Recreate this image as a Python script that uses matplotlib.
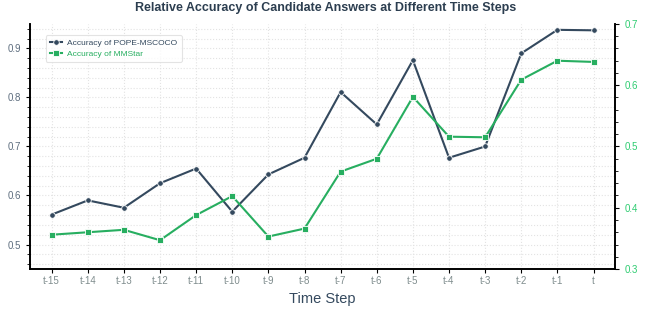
import numpy as np
import matplotlib
matplotlib.use("Agg")
import matplotlib.pyplot as plt
from matplotlib.ticker import MultipleLocator

plt.rcParams['font.family'] = ['Liberation Sans', 'DejaVu Sans']

steps = ["t-15", "t-14", "t-13", "t-12", "t-11", "t-10", "t-9", "t-8",
         "t-7", "t-6", "t-5", "t-4", "t-3", "t-2", "t-1", "t"]
pope = [0.561, 0.590, 0.575, 0.625, 0.655, 0.567, 0.643, 0.677,
        0.811, 0.745, 0.876, 0.677, 0.700, 0.890, 0.938, 0.937]
mmstar = [0.356, 0.360, 0.364, 0.347, 0.388, 0.419, 0.353, 0.366,
          0.459, 0.480, 0.581, 0.516, 0.515, 0.609, 0.640, 0.638]

blue = '#34495e'
green = '#27ae60'

fig = plt.figure(figsize=(6.51, 3.11), dpi=100)
ax = fig.add_axes([0.046, 0.135, 0.899, 0.788])
ax2 = ax.twinx()

x = np.arange(len(steps))
l1, = ax.plot(x, pope, color=blue, lw=1.5, marker='o', ms=4,
              mec='white', mew=0.6, label='Accuracy of POPE-MSCOCO', zorder=3)
l2, = ax2.plot(x, mmstar, color=green, lw=1.5, marker='s', ms=4,
               mec='white', mew=0.6, label='Accuracy of MMStar', zorder=3)

ax.set_xlim(-0.6, 15.6)
ax.set_ylim(0.45, 0.95)
ax2.set_ylim(0.3, 0.7)
ax.set_xticks(x)
ax.set_xticklabels(steps)
ax.yaxis.set_major_locator(MultipleLocator(0.1))
ax.yaxis.set_minor_locator(MultipleLocator(0.02))
ax2.yaxis.set_major_locator(MultipleLocator(0.1))
ax2.yaxis.set_minor_locator(MultipleLocator(0.02))

ax.grid(True, which='both', axis='y', color='#e3e3e3', ls=':', lw=0.8)
ax.grid(True, which='major', axis='x', color='#e3e3e3', ls=':', lw=0.8)
ax.set_axisbelow(True)

for a in (ax, ax2):
    a.spines['top'].set_visible(False)
    for s in ('left', 'right', 'bottom'):
        a.spines[s].set_color('black')
        a.spines[s].set_linewidth(1.2)

ax.tick_params(axis='x', labelsize=7, labelcolor='#7f8c8d', color='black',
               length=3, width=0.8, pad=2)
ax.tick_params(axis='y', which='major', labelsize=7, labelcolor='#5d6d7e',
               color='black', length=3, width=0.8)
ax.tick_params(axis='y', which='minor', color='black', length=2, width=0.6)
ax2.tick_params(axis='y', which='major', labelsize=7, labelcolor='#2ecc71',
                color='black', length=3, width=0.8)
ax2.tick_params(axis='y', which='minor', color='black', length=2, width=0.6)

ax.set_xlabel('Time Step', fontsize=10.5, color=blue, labelpad=4)
fig.suptitle('Relative Accuracy of Candidate Answers at Different Time Steps',
             fontsize=9, fontweight='bold', color='#2c3e50', y=0.995)

leg = ax.legend(handles=[l1, l2], loc='upper left', fontsize=6,
                bbox_to_anchor=(0.027, 0.955), frameon=True, handlelength=1.5,
                borderpad=0.5, labelspacing=0.35, handletextpad=0.6,
                borderaxespad=0)
leg.get_frame().set_edgecolor('#dddddd')
leg.get_frame().set_linewidth(0.8)
leg.get_texts()[0].set_color(blue)
leg.get_texts()[1].set_color(green)

fig.savefig('out.png', dpi=100)
